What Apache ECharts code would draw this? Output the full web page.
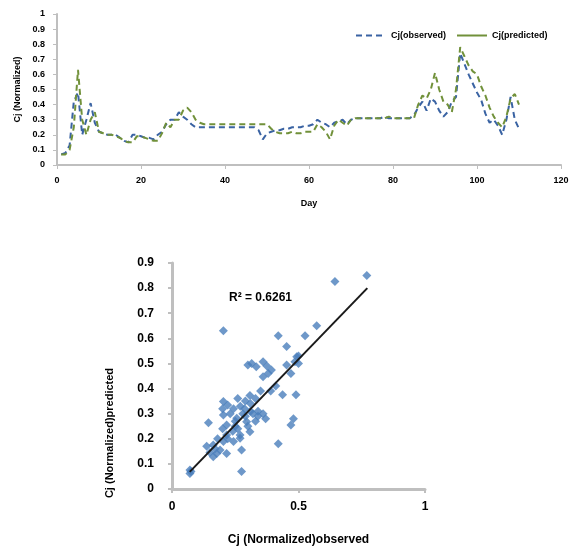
<!DOCTYPE html>
<html><head><meta charset="utf-8">
<script src="https://cdn.jsdelivr.net/npm/echarts@6/dist/echarts.min.js"></script>
<style>html,body{margin:0;padding:0;background:#fff}#c{width:577px;height:551px}</style>
</head><body><div id="c"></div>
<script>
// ---- Data ----
const days = [];
for (let d = 1; d <= 110; d++) days.push(d);
const observed = [
0.07,0.08,0.13,0.42,0.48,0.20,0.30,0.41,0.28,0.22,
0.21,0.20,0.20,0.20,0.18,0.16,0.15,0.20,0.20,0.19,
0.18,0.18,0.17,0.20,0.22,0.27,0.30,0.30,0.35,0.32,
0.30,0.27,0.25,0.25,0.25,0.25,0.25,0.25,0.25,0.25,
0.25,0.25,0.25,0.25,0.25,0.25,0.25,0.23,0.17,0.21,
0.22,0.23,0.23,0.24,0.24,0.25,0.25,0.25,0.26,0.26,
0.27,0.30,0.28,0.27,0.25,0.28,0.29,0.30,0.27,0.30,
0.31,0.31,0.31,0.31,0.31,0.31,0.31,0.32,0.31,0.31,
0.31,0.31,0.31,0.31,0.33,0.38,0.42,0.36,0.44,0.42,
0.36,0.32,0.35,0.42,0.45,0.74,0.67,0.60,0.54,0.48,
0.43,0.34,0.28,0.30,0.26,0.20,0.30,0.45,0.30,0.24];
const predicted = [
0.07,0.07,0.10,0.25,0.63,0.30,0.20,0.30,0.35,0.22,
0.21,0.20,0.20,0.19,0.18,0.16,0.15,0.15,0.19,0.19,
0.18,0.17,0.16,0.16,0.21,0.28,0.25,0.30,0.30,0.36,
0.38,0.35,0.30,0.28,0.27,0.27,0.27,0.27,0.27,0.27,
0.27,0.27,0.27,0.27,0.27,0.27,0.27,0.27,0.27,0.27,
0.24,0.22,0.21,0.21,0.21,0.22,0.21,0.21,0.22,0.22,
0.22,0.27,0.25,0.22,0.17,0.26,0.30,0.28,0.26,0.30,
0.31,0.31,0.31,0.31,0.31,0.31,0.31,0.31,0.32,0.31,
0.31,0.31,0.31,0.31,0.31,0.40,0.46,0.44,0.50,0.61,
0.50,0.42,0.40,0.35,0.50,0.78,0.72,0.66,0.62,0.60,
0.52,0.46,0.38,0.32,0.28,0.25,0.32,0.44,0.47,0.40];

const scatterObs = [0.77,0.644,0.203,0.572,0.526,0.42,0.453,0.493,0.486,0.453,
0.30,0.315,0.333,0.36,0.375,0.393,0.36,0.38,0.437,0.49,
0.48,0.47,0.42,0.275,0.275,0.144,0.071,0.071,0.075,0.203,
0.22,0.243,0.26,0.29,0.308,0.287,0.34,0.37,0.34,0.36,
0.203,0.216,0.256,0.295,0.308,0.269,0.216,0.163,0.177,0.203,
0.19,0.163,0.216,0.243,0.269,0.137,0.20,0.23,0.25,0.28,
0.32,0.26,0.24,0.22,0.18,0.25,0.30,0.33,0.29,0.31,
0.20,0.17,0.15,0.27,0.31,0.39,0.47,0.50,0.50,0.41,0.35,0.33];
const scatterPred = [0.85,0.826,0.63,0.65,0.61,0.61,0.567,0.527,0.507,0.494,
0.494,0.50,0.487,0.507,0.49,0.474,0.447,0.46,0.375,0.375,
0.28,0.255,0.18,0.155,0.07,0.264,0.062,0.076,0.07,0.348,
0.335,0.32,0.36,0.35,0.372,0.32,0.31,0.28,0.29,0.30,
0.295,0.255,0.282,0.268,0.228,0.215,0.215,0.175,0.141,0.189,
0.155,0.128,0.141,0.189,0.202,0.17,0.32,0.30,0.25,0.30,
0.30,0.24,0.23,0.20,0.20,0.27,0.25,0.27,0.29,0.31,
0.24,0.16,0.145,0.33,0.34,0.39,0.46,0.50,0.53,0.41,0.39,0.36];
const trendX = [0.07, 0.772];
const trendY = [0.068, 0.80];
const r2Label = 'R² = 0.6261';
const scatterYTitle = 'Cj (Normalized)predicted';

// ---- Chart ----
const chart = echarts.init(document.getElementById('c'));
const FONT = '"Liberation Sans", Arial, sans-serif';
const axisLineStyle = {color:'#BFBFBF', width:2};
const lbl = (sz)=>({color:'#000', fontWeight:'bold', fontSize:sz, fontFamily:FONT});

chart.setOption({
  animation:false,
  backgroundColor:'#fff',
  textStyle:{fontFamily:FONT},
  legend:{
    left:350, top:26, itemWidth:30, itemHeight:10, itemGap:10,
    textStyle:lbl(9),
    data:[
      {name:'Cj(observed)', itemStyle:{opacity:0}, lineStyle:{type:[6,4], width:2}},
      {name:'Cj(predicted)', itemStyle:{opacity:0}, lineStyle:{type:'solid', width:2}}
    ]
  },
  grid:[
    {left:57, top:14, width:504, height:151},
    {left:172, top:263, width:253, height:226}
  ],
  xAxis:[
    {gridIndex:0, type:'value', min:0, max:120, interval:20,
     name:'Day', nameLocation:'middle', nameGap:34, nameTextStyle:lbl(9),
     axisLine:{lineStyle:axisLineStyle}, axisTick:{show:true, length:4, lineStyle:{color:'#BFBFBF'}},
     axisLabel:{...lbl(9), margin:11}, splitLine:{show:false}},
    {gridIndex:1, type:'value', min:0, max:1, interval:0.5,
     name:'Cj (Normalized)observed', nameLocation:'middle', nameGap:45, nameTextStyle:lbl(12),
     axisLine:{lineStyle:{color:'#BFBFBF', width:3}}, axisTick:{show:true, length:4, lineStyle:{color:'#BFBFBF', width:2}},
     axisLabel:{...lbl(12), margin:12}, splitLine:{show:false}}
  ],
  yAxis:[
    {gridIndex:0, type:'value', min:0, max:1, interval:0.1,
     name:'Cj (Normalized)', nameLocation:'middle', nameGap:28, nameTextStyle:lbl(9),
     axisLine:{show:true, lineStyle:axisLineStyle}, axisTick:{show:true, length:4, lineStyle:{color:'#BFBFBF'}},
     axisLabel:{...lbl(9), margin:12, formatter:v=>+v.toFixed(1)}, splitLine:{show:false}},
    {gridIndex:1, type:'value', min:0, max:0.9, interval:0.1,
     axisLine:{show:true, lineStyle:{color:'#BFBFBF', width:3}}, axisTick:{show:true, length:4, lineStyle:{color:'#BFBFBF', width:2}},
     axisLabel:{...lbl(12), margin:18, formatter:v=>+v.toFixed(1)}, splitLine:{show:false}}
  ],
  graphic:[
    {type:'text', left:229, top:292, style:{text:r2Label, fill:'#000', font:'bold 12px '+FONT}},
    {type:'text', x:110, y:433, rotation:Math.PI/2,
     style:{text:scatterYTitle, fill:'#000', font:'bold 11px '+FONT, align:'center', verticalAlign:'middle'}}
  ],
  series:[
    {name:'Cj(observed)', type:'line', xAxisIndex:0, yAxisIndex:0, symbol:'none',
     lineStyle:{color:'#3A63A3', width:2, type:[6,4]}, itemStyle:{color:'#3A63A3'},
     data:days.map((d,i)=>[d, observed[i]])},
    {name:'Cj(predicted)', type:'line', xAxisIndex:0, yAxisIndex:0, symbol:'none',
     lineStyle:{color:'#71913A', width:2, type:[6,4]}, itemStyle:{color:'#71913A'},
     data:days.map((d,i)=>[d, predicted[i]])},
    {name:'scatter', type:'scatter', xAxisIndex:1, yAxisIndex:1, symbol:'diamond', symbolSize:9,
     itemStyle:{color:'#4A7EBB'},
     data:scatterObs.map((x,i)=>[x, scatterPred[i]])},
    {name:'trend', type:'line', xAxisIndex:1, yAxisIndex:1, symbol:'none', z:5,
     lineStyle:{color:'#1a1a1a', width:2},
     data:trendX.map((x,i)=>[x, trendY[i]])}
  ]
});
</script></body></html>
